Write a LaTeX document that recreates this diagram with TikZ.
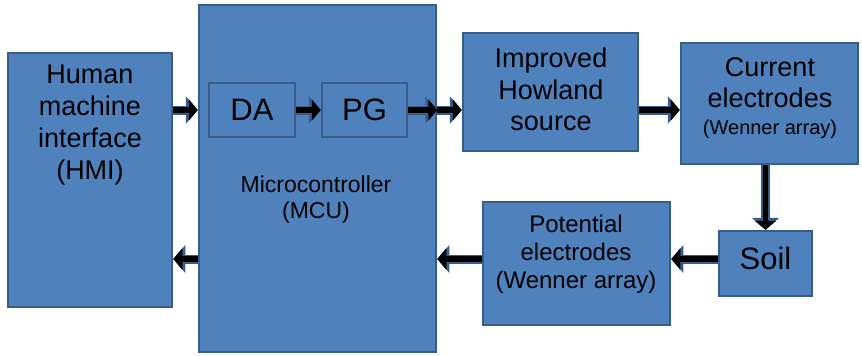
\documentclass[tikz,border=0pt]{standalone}
\usepackage{fontspec}
\setmainfont{Liberation Sans}
\usetikzlibrary{arrows.meta,positioning}

\definecolor{boxfill}{RGB}{79, 129, 189}
\definecolor{boxedge}{RGB}{56, 93, 138}

\tikzset{
    block/.style={draw=boxedge, fill=boxfill, line width=2.5pt, inner sep=0pt},
    blocktext/.style={align=center, inner sep=0pt, text=black},
    flow/.style={black, line width=5.5pt, -{Triangle[length=9pt, width=21pt]},
        preaction={draw=boxedge, line width=9pt, -{Triangle[length=12pt, width=27pt]}}}
}

\begin{document}
\begin{tikzpicture}[x=1pt, y=-1pt]
    \useasboundingbox (0,0) rectangle (862,356);

    % Boxes (centres and sizes in pixels of the sketch)
    \node[block, minimum width=164pt, minimum height=254pt] (hmi) at (90,180) {};
    \node[block, minimum width=237pt, minimum height=347pt] (mcu) at (317.5,178.5) {};
    \node[block, minimum width=86pt, minimum height=54pt] (da) at (252,110) {};
    \node[block, minimum width=85pt, minimum height=54pt] (pg) at (364.5,110) {};
    \node[block, minimum width=175pt, minimum height=118pt] (howland) at (550.5,92) {};
    \node[block, minimum width=177pt, minimum height=121pt] (current) at (769.5,103.5) {};
    \node[block, minimum width=93pt, minimum height=65pt] (soil) at (765.5,263.5) {};
    \node[block, minimum width=187pt, minimum height=123pt] (potential) at (576.5,263.5) {};

    % Texts
    \node[blocktext, font=\fontsize{27}{32}\selectfont] (hmitext) at (90,125)
        {Human\\machine\\interface\\(HMI)};
    \node[blocktext, font=\fontsize{23}{26}\selectfont] (mcutext) at (316,200)
        {Microcontroller\\(MCU)};
    \node[blocktext, font=\fontsize{31}{36}\selectfont] (datext) at (da) {DA};
    \node[blocktext, font=\fontsize{31}{36}\selectfont] (pgtext) at (pg) {PG};
    \node[blocktext, font=\fontsize{27}{31.5}\selectfont] (howlandtext) at (551,89.5)
        {Improved\\Howland\\source};
    \node[blocktext, font=\fontsize{27}{31}\selectfont] (currenttext) at (770,98.5)
        {Current\\electrodes\\[-4pt]{\fontsize{20}{24}\selectfont (Wenner array)}};
    \node[blocktext, font=\fontsize{31}{36}\selectfont] (soiltext) at (765.5,258) {Soil};
    \node[blocktext, font=\fontsize{24}{28}\selectfont] (potentialtext) at (576,254)
        {Potential\\electrodes\\(Wenner array)};

    % Return path height
    \coordinate (back) at (0,259);

    % Arrows
    \draw[flow] (hmi.east |- da) -- (mcu.west |- da);
    \draw[flow] (da.east) -- (pg.west);
    \draw[flow] (pg.east) -- (mcu.east |- pg);
    \draw[flow] (mcu.east |- pg) -- (howland.west |- pg);
    \draw[flow] (howland.east |- pg) -- (current.west |- pg);
    \draw[flow] (current.south -| soil) -- (soil.north);
    \draw[flow] (soil.west |- back) -- (potential.east |- back);
    \draw[flow] (potential.west |- back) -- (mcu.east |- back);
    \draw[flow] (mcu.west |- back) -- (hmi.east |- back);

\end{tikzpicture}
\end{document}
